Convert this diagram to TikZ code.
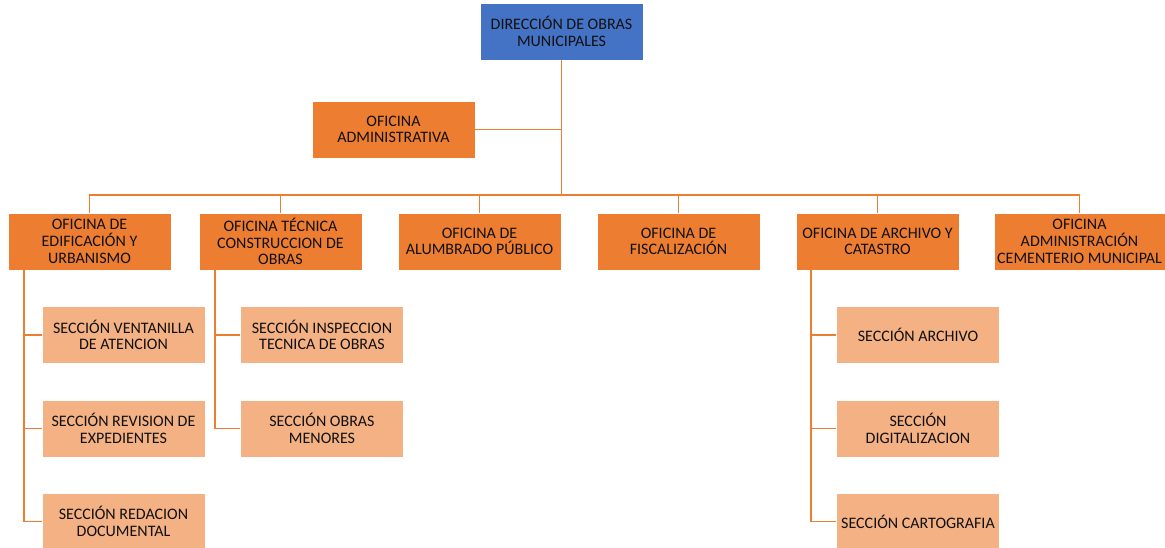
\documentclass[tikz,border=0pt]{standalone}
\usepackage{fontspec}
\setmainfont{Carlito}
\definecolor{dirblue}{HTML}{4472C4}
\definecolor{ofiorange}{HTML}{ED7D31}
\definecolor{secpeach}{HTML}{F4B183}
\definecolor{linkorange}{HTML}{ED7D31}
\definecolor{ink}{HTML}{111111}
\begin{document}
\begin{tikzpicture}[x=1pt,y=-1pt,
  box/.style={minimum width=163pt, minimum height=57pt, inner sep=0pt, align=center,
    draw=white, line width=0.6pt, text=ink,
    font=\fontsize{16pt}{16.7pt}\selectfont},
  dir/.style={box, fill=dirblue},
  ofi/.style={box, fill=ofiorange},
  sec/.style={box, fill=secpeach},
  link/.style={draw=linkorange, line width=1.6pt}]
\useasboundingbox (0,0) rectangle (1165,547);

% top level
\node[dir] (dir) at (561.5,31.5) {DIRECCIÓN DE OBRAS\\MUNICIPALES};
\node[ofi] (adm) at (393.5,129.5) {OFICINA\\ADMINISTRATIVA};

% offices
\node[ofi] (o1) at (89.5,241.5) {OFICINA DE\\EDIFICACIÓN Y\\URBANISMO};
\node[ofi] (o2) at (280.5,241.5) {OFICINA TÉCNICA\\CONSTRUCCION DE\\OBRAS};
\node[ofi] (o3) at (479.5,241.5) {OFICINA DE\\ALUMBRADO PÚBLICO};
\node[ofi] (o4) at (678.5,241.5) {OFICINA DE\\FISCALIZACIÓN};
\node[ofi] (o5) at (877.5,241.5) {OFICINA DE ARCHIVO Y\\CATASTRO};
\node[ofi, minimum width=171pt] (o6) at (1079.5,241.5) {OFICINA\\ADMINISTRACIÓN\\CEMENTERIO MUNICIPAL};

% sections
\node[sec] (s11) at (123.5,335) {SECCIÓN VENTANILLA\\DE ATENCION};
\node[sec] (s12) at (123.5,428.5) {SECCIÓN REVISION DE\\EXPEDIENTES};
\node[sec] (s13) at (123.5,521.5) {SECCIÓN REDACION\\DOCUMENTAL};
\node[sec] (s21) at (322,335) {SECCIÓN INSPECCION\\TECNICA DE OBRAS};
\node[sec] (s22) at (322,428.5) {SECCIÓN OBRAS\\MENORES};
\node[sec] (s51) at (918,335) {SECCIÓN ARCHIVO};
\node[sec] (s52) at (918,428.5) {SECCIÓN\\DIGITALIZACION};
\node[sec] (s53) at (918,521.5) {SECCIÓN CARTOGRAFIA};

% connector guides
\coordinate (bus) at (0,195);
\coordinate (r1) at (24,0);
\coordinate (r2) at (215,0);
\coordinate (r5) at (811,0);

% main trunk and staff office
\draw[link] (dir.south) -- (dir.south |- bus);
\draw[link] (adm.east) -- (adm.east -| dir.south);

% bus to offices
\draw[link] (o1.north) -- (o1.north |- bus) -- (o6.north |- bus) -- (o6.north);
\foreach \o in {o2,o3,o4,o5}
  \draw[link] (\o.north) -- (\o.north |- bus);

% section rails
\draw[link] (r1 |- o1.south) -- (r1 |- s13.west);
\foreach \s in {s11,s12,s13}
  \draw[link] (r1 |- \s.west) -- (\s.west);
\draw[link] (r2 |- o2.south) -- (r2 |- s22.west);
\foreach \s in {s21,s22}
  \draw[link] (r2 |- \s.west) -- (\s.west);
\draw[link] (r5 |- o5.south) -- (r5 |- s53.west);
\foreach \s in {s51,s52,s53}
  \draw[link] (r5 |- \s.west) -- (\s.west);
\end{tikzpicture}
\end{document}
